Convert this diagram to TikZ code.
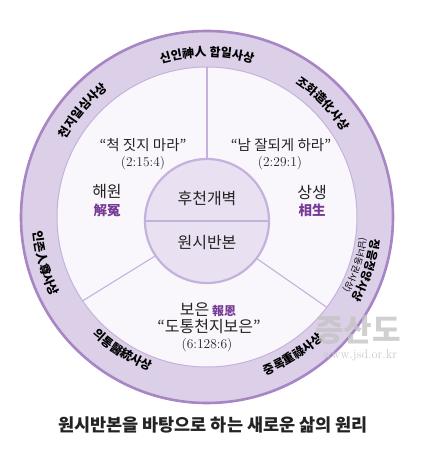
\documentclass[tikz,border=0pt]{standalone}
\usepackage{fontspec}
\usepackage{xcolor}
\usepackage{tikz}
\usetikzlibrary{decorations.text,calc}

\newfontfamily\kor{Noto Sans CJK KR}
\definecolor{ringfill}{RGB}{219,208,232}
\definecolor{ringedge}{RGB}{168,134,198}
\definecolor{ringline}{RGB}{196,178,220}
\definecolor{sectorfill}{RGB}{249,247,252}
\definecolor{hubfill}{RGB}{233,225,242}
\definecolor{hanjacol}{RGB}{118,58,150}
\definecolor{inkcol}{RGB}{35,35,35}
\definecolor{markcol}{RGB}{196,196,196}
\newcommand\ringfont{\kor\bfseries\fontsize{12}{14}\selectfont}
\newcommand\smallringfont{\kor\bfseries\fontsize{11.5}{13}\selectfont}
\newcommand\tinyringfont{\kor\fontsize{9}{11}\selectfont}

\begin{document}
\begin{tikzpicture}[x=1pt,y=1pt,
  ringtext/.style={decorate, decoration={text along path,
    text align=center, text={|\ringfont|#1}}},
  hub/.style={circle, draw=ringline, line width=2.2pt, fill=hubfill,
    minimum size=124pt, inner sep=0pt},
  spoke/.style={draw=ringline, line width=1.1pt},
  key/.style={font=\kor\fontsize{16}{18}\selectfont, text=inkcol, inner sep=1pt},
  hanja/.style={font=\kor\bfseries\fontsize{13.5}{15}\selectfont, text=hanjacol, inner sep=1pt},
  quote/.style={font=\kor\fontsize{14.5}{16}\selectfont, text=inkcol, inner sep=1pt},
  cite/.style={font=\fontsize{13.5}{15}\selectfont, text=inkcol, inner sep=1pt}
]
\useasboundingbox (0,0) rectangle (421,467);
\coordinate (c) at (207,250);

% outer ring
\fill[ringfill] (c) circle[radius=187];
\draw[ringedge, line width=2.6pt] (c) circle[radius=186];
\fill[sectorfill] (c) circle[radius=150];
\draw[ringline, line width=1pt] (c) circle[radius=150];

% ring labels
\path[ringtext={신인神人 합일사상}] ($(c)+(130:160.5)$) arc[start angle=130, end angle=50, radius=160.5];
\path[ringtext={천지일심사상}] ($(c)+(179.4:161.5)$) arc[start angle=179.4, end angle=99.4, radius=161.5];
\path[ringtext={조화造化사상}] ($(c)+(84.3:160.5)$) arc[start angle=84.3, end angle=4.3, radius=160.5];
\path[ringtext={인존人尊사상}] ($(c)+(156:174.5)$) arc[start angle=156, end angle=236, radius=174.5];
\path[ringtext={의통醫統사상}] ($(c)+(197.8:164)$) arc[start angle=197.8, end angle=277.8, radius=164];
\path[ringtext={중록重祿사상}] ($(c)+(-98:168.5)$) arc[start angle=-98, end angle=-18, radius=168.5];
\path[decorate, decoration={text along path, text align=center,
    text={|\smallringfont|정음정양사상}}]
  ($(c)+(21.5:165.5)$) arc[start angle=21.5, end angle=-58.5, radius=165.5];
\path[decorate, decoration={text along path, text align=center,
    text={|\tinyringfont|(남녀동권사상)}}]
  ($(c)+(22:154.5)$) arc[start angle=22, end angle=-58, radius=154.5];

% hub and spokes
\node[hub] (hub) at (207,246) {};
\coordinate (rtop) at ($(c)+(90:150)$);
\coordinate (rleft) at ($(c)+(214:150)$);
\coordinate (rright) at ($(c)+(-37:150)$);
\draw[spoke] (hub.90) -- (rtop);
\draw[spoke] (hub.214) -- (rleft);
\draw[spoke] (hub.-37) -- (rright);
\draw[ringline, line width=1.6pt] (hub.west) -- (hub.east);
\node[key] (gaebyeok) at (207,269) {후천개벽};
\node[key] (banbon) at (207,224) {원시반본};

% sectors
\node[quote] (quoteleft) at (143,322) {“척 짓지 마라”};
\node[cite] (citeleft) at (143,304) {(2:15:4)};
\node[quote] (quoteright) at (281,322) {“남 잘되게 하라”};
\node[cite] (citeright) at (280,304) {(2:29:1)};
\node[key] (haewon) at (107,275) {해원};
\node[hanja] (haewonhj) at (107,257) {解冤};
\node[key] (sangsaeng) at (312,275) {상생};
\node[hanja] (sangsaenghj) at (312,257) {相生};
\node[key] (boeun) at (208,157.5) {보은\,{\bfseries\fontsize{12}{14}\selectfont\color{hanjacol}報恩}};
\node[quote, font=\kor\fontsize{16}{18}\selectfont] (quotebottom) at (209,140) {“도통천지보은”};
\node[cite] (citebottom) at (207,122) {(6:128:6)};

% watermark
\node[font=\kor\bfseries\fontsize{31}{33}\selectfont, text=markcol, opacity=0.8] (mark) at (358,137) {증산도};
\node[font=\fontsize{12.5}{14}\selectfont, text=markcol, opacity=0.9] (markurl) at (360,112) {www.jsd.or.kr};

% caption
\node[font=\kor\bfseries\fontsize{17.5}{19}\selectfont, text=inkcol] (caption) at (213,42) {원시반본을 바탕으로 하는 새로운 삶의 원리};
\end{tikzpicture}
\end{document}
